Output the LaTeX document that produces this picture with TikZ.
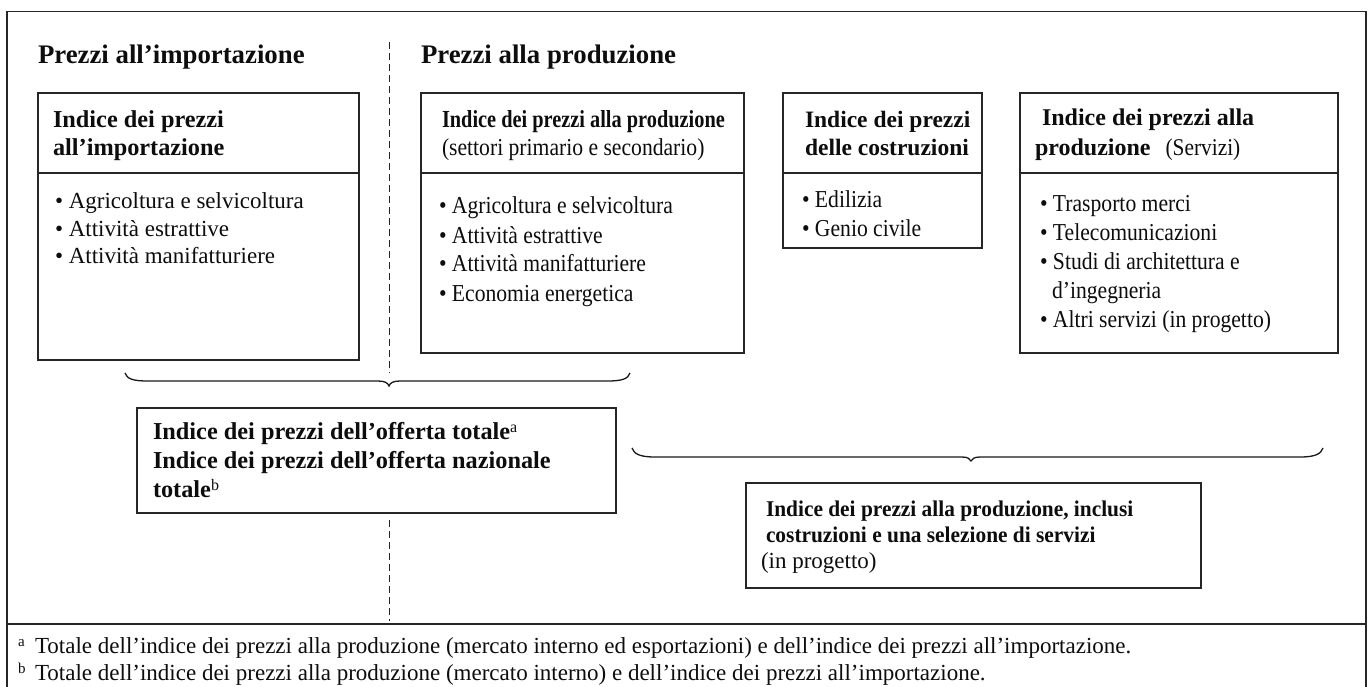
\documentclass[tikz,border=0pt]{standalone}
\usepackage{fontspec}
\setmainfont{Liberation Serif}
\newfontfamily\condreg{Liberation Serif}[FakeStretch=0.89]
\newfontfamily\condttl{Liberation Serif}[FakeStretch=0.83]
\newfontfamily\condfive{Liberation Serif}[FakeStretch=0.95]
\tikzset{
  framestyle/.style={draw=black!85, line width=1.3pt},
  boxstyle/.style={draw=black!85, line width=1.3pt, anchor=north west, inner sep=0pt, outer sep=0pt},
  bracestyle/.style={draw=black!90, line width=1.3pt},
  sepline/.style={draw=black!85, line width=0.9pt, dash pattern=on 7pt off 4pt},
  txt/.style={anchor=base west, inner sep=0pt, outer sep=0pt, text=black!95},
  headtxt/.style={txt, font=\fontsize{26.8}{30}\selectfont\bfseries},
  ttlone/.style={txt, font=\fontsize{24.3}{28}\selectfont\bfseries},
  ttltwo/.style={txt, font=\fontsize{24.5}{28}\selectfont\condttl\bfseries},
  ttlthree/.style={txt, font=\fontsize{23.5}{28}\selectfont\bfseries},
  ttlfour/.style={txt, font=\fontsize{24}{28}\selectfont\bfseries},
  ttlfive/.style={txt, font=\fontsize{22.5}{26}\selectfont\condfive\bfseries},
  itemone/.style={txt, font=\fontsize{23}{27}\selectfont},
  itemc/.style={txt, font=\fontsize{24.3}{28}\selectfont\condreg},
  regtxt/.style={txt, font=\fontsize{23}{26}\selectfont},
  footmark/.style={txt, font=\fontsize{15}{15}\selectfont},
}
\newcommand{\supmark}[1]{\raisebox{7pt}{\fontsize{16}{16}\selectfont\mdseries #1}}
\begin{document}
\begin{tikzpicture}[x=1pt,y=-1pt]
\useasboundingbox (0,0) rectangle (1371,686);
\fill[white] (0,0) rectangle (1371,686);

% outer frame
\draw[framestyle] (7,700) -- (7,11.5) -- (1366,11.5) -- (1366,700);
\coordinate (rl) at (7,624);
\coordinate (rr) at (1366,624);
\draw[framestyle] (rl) -- (rr);

% separator
\coordinate (s1) at (389,42);
\coordinate (s2) at (389,373);
\coordinate (s3) at (389,520);
\coordinate (s4) at (389,621);
\draw[sepline] (s1) -- (s2);
\draw[sepline] (s3) -- (s4);

% headings
\node[headtxt] (h1) at (38,63) {Prezzi all’importazione};
\node[headtxt] (h2) at (421,63) {Prezzi alla produzione};

% box 1
\node[boxstyle, minimum width=321pt, minimum height=267pt] (b1) at (38,93) {};
\draw[framestyle] (b1.west |- 0,173) -- (b1.east |- 0,173);
\node[ttlone] (b1t1) at (53,127) {Indice dei prezzi};
\node[ttlone] (b1t2) at (53,155) {all’importazione};
\node[itemone] (b1i1) at (55,208) {• Agricoltura e selvicoltura};
\node[itemone] (b1i2) at (55,236) {• Attività estrattive};
\node[itemone] (b1i3) at (55,263) {• Attività manifatturiere};

% box 2
\node[boxstyle, minimum width=323pt, minimum height=260pt] (b2) at (421,93) {};
\draw[framestyle] (b2.west |- 0,173) -- (b2.east |- 0,173);
\node[ttltwo] (b2t1) at (442,127) {Indice dei prezzi alla produzione};
\node[itemc] (b2t2) at (442,155) {(settori primario e secondario)};
\node[itemc] (b2i1) at (439,213) {• Agricoltura e selvicoltura};
\node[itemc] (b2i2) at (439,243) {• Attività estrattive};
\node[itemc] (b2i3) at (439,271) {• Attività manifatturiere};
\node[itemc] (b2i4) at (439,301) {• Economia energetica};

% box 3
\node[boxstyle, minimum width=199pt, minimum height=155pt] (b3) at (783,93) {};
\draw[framestyle] (b3.west |- 0,173) -- (b3.east |- 0,173);
\node[ttlthree] (b3t1) at (805,127) {Indice dei prezzi};
\node[ttlthree] (b3t2) at (805,155) {delle costruzioni};
\node[itemc] (b3i1) at (802,207) {• Edilizia};
\node[itemc] (b3i2) at (802,236) {• Genio civile};

% box 4
\node[boxstyle, minimum width=318pt, minimum height=260pt] (b4) at (1020,93) {};
\draw[framestyle] (b4.west |- 0,173) -- (b4.east |- 0,173);
\node[ttlfour] (b4t1) at (1042,125) {Indice dei prezzi alla};
\node[ttlfour] (b4t2) at (1035,155) {produzione\hspace{15pt}{\mdseries\condreg (Servizi)}};
\node[itemc] (b4i1) at (1040,211) {• Trasporto merci};
\node[itemc] (b4i2) at (1040,240) {• Telecomunicazioni};
\node[itemc] (b4i3) at (1040,269) {• Studi di architettura e};
\node[itemc] (b4i4) at (1052,298) {d’ingegneria};
\node[itemc] (b4i5) at (1040,327) {• Altri servizi (in progetto)};

% brace 1
\draw[bracestyle] (125,373) .. controls (127,379) and (133,381) .. (148,381) -- (378,381)
  .. controls (385,381) and (388,383) .. (389,386)
  .. controls (390,383) and (393,381) .. (400,381) -- (607,381)
  .. controls (622,381) and (628,379) .. (630,373);

% offer box
\node[boxstyle, minimum width=479pt, minimum height=105pt] (ob) at (137,408) {};
\node[ttlone] (ot1) at (153,439) {Indice dei prezzi dell’offerta totale\supmark{a}};
\node[ttlone] (ot2) at (153,468) {Indice dei prezzi dell’offerta nazionale};
\node[ttlone] (ot3) at (153,497) {totale\supmark{b}};

% brace 2
\draw[bracestyle] (632,448) .. controls (634,454) and (640,457) .. (655,457) -- (962,457)
  .. controls (968,457) and (970,459) .. (971,461)
  .. controls (972,459) and (974,457) .. (980,457) -- (1300,457)
  .. controls (1315,457) and (1321,454) .. (1323,448);

% box 5
\node[boxstyle, minimum width=455pt, minimum height=105pt] (b5) at (746,483) {};
\node[ttlfive] (b5t1) at (766,516) {Indice dei prezzi alla produzione, inclusi};
\node[ttlfive] (b5t2) at (766,542) {costruzioni e una selezione di servizi};
\node[regtxt] (b5t3) at (761,568) {(in progetto)};

% footnotes
\node[footmark] (fa) at (18,646) {a};
\node[regtxt] (fta) at (35,653) {Totale dell’indice dei prezzi alla produzione (mercato interno ed esportazioni) e dell’indice dei prezzi all’importazione.};
\node[footmark] (fb) at (18,673) {b};
\node[regtxt] (ftb) at (35,680) {Totale dell’indice dei prezzi alla produzione (mercato interno) e dell’indice dei prezzi all’importazione.};
\end{tikzpicture}
\end{document}
